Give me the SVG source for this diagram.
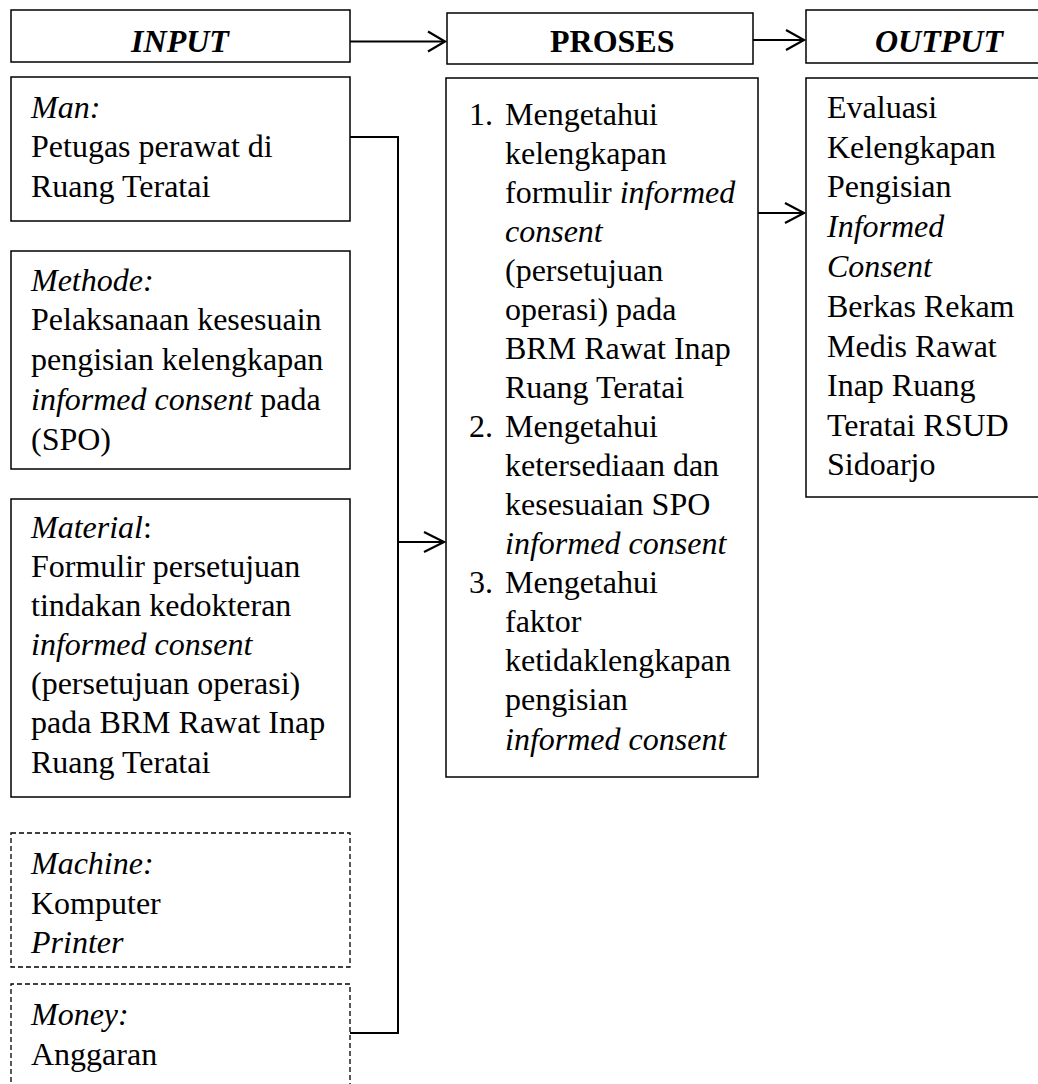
<svg xmlns="http://www.w3.org/2000/svg" width="1038" height="1084" viewBox="0 0 1038 1084">
<style>
  .box { fill: #ffffff; stroke: #000000; stroke-width: 1.5; }
  .dash { fill: #ffffff; stroke: #000000; stroke-width: 1.3; stroke-dasharray: 5 3; }
  .t { font-family: "Liberation Serif", "Times New Roman", serif; font-size: 32px; fill: #000000; }
  .i { font-style: italic; }
  .hb { font-weight: bold; }
  .conn { fill: none; stroke: #000000; stroke-width: 2; }
  .head { fill: none; stroke: #000000; stroke-width: 2.2; }
</style>
<rect width="1038" height="1084" fill="#ffffff"/>

<g id="input-header">
  <rect class="box" x="11" y="10" width="339" height="52"/>
  <text class="t hb i" x="180" y="52" text-anchor="middle">INPUT</text>
</g>
<g id="proses-header">
  <rect class="box" x="447" y="13" width="306" height="51"/>
  <text class="t hb" x="550" y="52">PROSES</text>
</g>
<g id="output-header">
  <rect class="box" x="806" y="10" width="240" height="53"/>
  <text class="t hb i" x="875" y="52">OUTPUT</text>
</g>

<g id="man">
  <rect class="box" x="11" y="77" width="339" height="144"/>
  <text class="t" x="31" y="118"><tspan class="i">Man:</tspan></text>
  <text class="t" x="31" y="157">Petugas perawat di</text>
  <text class="t" x="31" y="197">Ruang Teratai</text>
</g>

<g id="methode">
  <rect class="box" x="11" y="251" width="339" height="218"/>
  <text class="t" x="31" y="291"><tspan class="i">Methode:</tspan></text>
  <text class="t" x="31" y="330">Pelaksanaan kesesuain</text>
  <text class="t" x="31" y="370">pengisian kelengkapan</text>
  <text class="t" x="31" y="410"><tspan class="i">informed consent</tspan> pada</text>
  <text class="t" x="31" y="450">(SPO)</text>
</g>

<g id="material">
  <rect class="box" x="11" y="499" width="339" height="298"/>
  <text class="t" x="31" y="538"><tspan class="i">Material</tspan>:</text>
  <text class="t" x="31" y="577">Formulir persetujuan</text>
  <text class="t" x="31" y="616">tindakan kedokteran</text>
  <text class="t" x="31" y="655"><tspan class="i">informed consent</tspan></text>
  <text class="t" x="31" y="694">(persetujuan operasi)</text>
  <text class="t" x="31" y="733">pada BRM Rawat Inap</text>
  <text class="t" x="31" y="773">Ruang Teratai</text>
</g>

<g id="machine">
  <rect class="dash" x="11" y="833" width="339" height="134"/>
  <text class="t" x="31" y="874"><tspan class="i">Machine:</tspan></text>
  <text class="t" x="31" y="914">Komputer</text>
  <text class="t" x="31" y="953"><tspan class="i">Printer</tspan></text>
</g>

<g id="money">
  <path class="dash" d="M11,1090 V984 H350 V1090"/>
  <text class="t" x="31" y="1025"><tspan class="i">Money:</tspan></text>
  <text class="t" x="31" y="1065">Anggaran</text>
</g>

<g id="proses">
  <rect class="box" x="446" y="78" width="312" height="699"/>
  <text class="t" x="469" y="125">1.</text>
  <text class="t" x="505" y="125">Mengetahui</text>
  <text class="t" x="505" y="164">kelengkapan</text>
  <text class="t" x="505" y="203">formulir <tspan class="i">informed</tspan></text>
  <text class="t" x="505" y="242"><tspan class="i">consent</tspan></text>
  <text class="t" x="505" y="281">(persetujuan</text>
  <text class="t" x="505" y="320">operasi) pada</text>
  <text class="t" x="505" y="359">BRM Rawat Inap</text>
  <text class="t" x="505" y="398">Ruang Teratai</text>
  <text class="t" x="469" y="437">2.</text>
  <text class="t" x="505" y="437">Mengetahui</text>
  <text class="t" x="505" y="476">ketersediaan dan</text>
  <text class="t" x="505" y="515">kesesuaian SPO</text>
  <text class="t" x="505" y="554"><tspan class="i">informed consent</tspan></text>
  <text class="t" x="469" y="593">3.</text>
  <text class="t" x="505" y="593">Mengetahui</text>
  <text class="t" x="505" y="632">faktor</text>
  <text class="t" x="505" y="671">ketidaklengkapan</text>
  <text class="t" x="505" y="710">pengisian</text>
  <text class="t" x="505" y="750"><tspan class="i">informed consent</tspan></text>
</g>

<g id="output">
  <rect class="box" x="806" y="78" width="240" height="419"/>
  <text class="t" x="827" y="118">Evaluasi</text>
  <text class="t" x="827" y="158">Kelengkapan</text>
  <text class="t" x="827" y="197">Pengisian</text>
  <text class="t" x="827" y="237"><tspan class="i">Informed</tspan></text>
  <text class="t" x="827" y="277"><tspan class="i">Consent</tspan></text>
  <text class="t" x="827" y="317">Berkas Rekam</text>
  <text class="t" x="827" y="357">Medis Rawat</text>
  <text class="t" x="827" y="396">Inap Ruang</text>
  <text class="t" x="827" y="436">Teratai RSUD</text>
  <text class="t" x="827" y="475">Sidoarjo</text>
</g>

<g id="connectors">
  <!-- INPUT -> PROSES header -->
  <path class="conn" d="M350,41.5 H445"/>
  <path class="head" d="M428,31.5 L445,41.5 L428,51.5"/>
  <!-- PROSES -> OUTPUT header -->
  <path class="conn" d="M753,40 H804"/>
  <path class="head" d="M786,30 L804,40 L786,50"/>
  <!-- bracket collecting inputs -->
  <path class="conn" d="M350,137 H398 V1033 H350"/>
  <!-- bracket -> PROSES -->
  <path class="conn" d="M398,542 H444"/>
  <path class="head" d="M424,532 L444,542 L424,552"/>
  <!-- PROSES -> OUTPUT -->
  <path class="conn" d="M758,213 H804"/>
  <path class="head" d="M785,203 L804,213 L785,223"/>
</g>
</svg>
